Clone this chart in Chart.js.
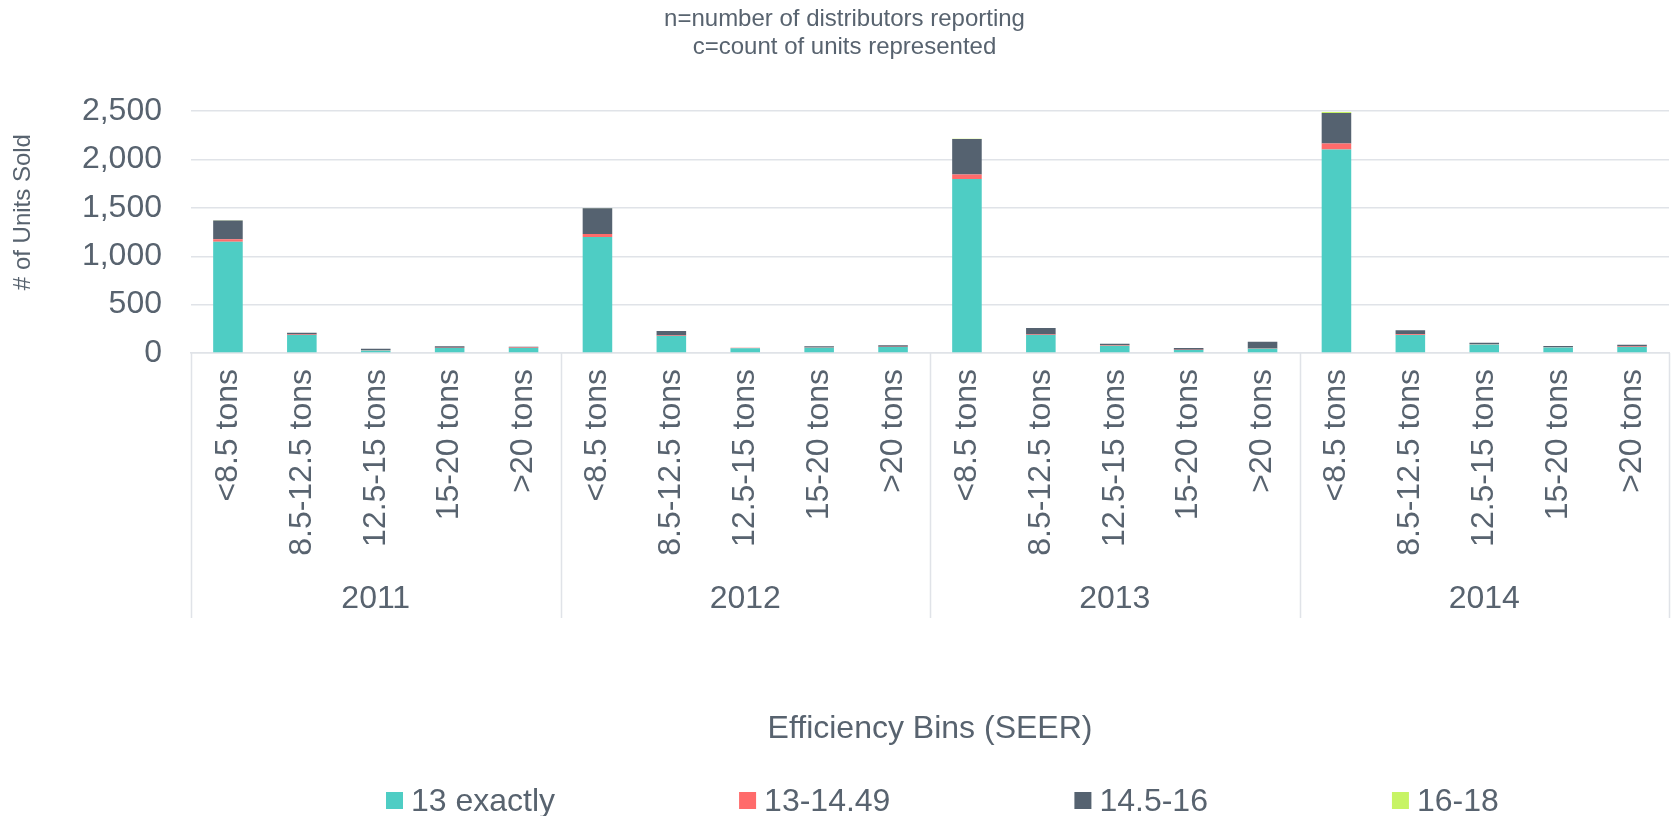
<!DOCTYPE html>
<html>
<head>
<meta charset="utf-8">
<script src="https://cdn.jsdelivr.net/npm/chart.js@4.4.1/dist/chart.umd.min.js"></script>
<style>
  html, body { margin: 0; padding: 0; background: #fff; }
  #wrap { width: 1671px; height: 816px; }
</style>
</head>
<body>
<div id="wrap"><canvas id="grafico"></canvas></div>
<script>
// === DADOS ===
const years = ['2011', '2012', '2013', '2014'];
const bins = ['<8.5 tons', '8.5-12.5 tons', '12.5-15 tons', '15-20 tons', '>20 tons'];
const seriesNames = ['13 exactly', '13-14.49', '14.5-16', '16-18'];

const exactly13 = [1150, 185, 27, 52, 52, 1200, 176, 48, 55, 62, 1800, 187, 76, 32, 45, 2105, 187, 89, 58, 62];
const s13to1449 = [25, 5, 3, 2, 5, 30, 4, 5, 2, 3, 45, 5, 8, 2, 2, 62, 8, 5, 2, 4];
const s145to16 = [195, 20, 15, 15, 8, 267, 48, 2, 12, 14, 368, 67, 12, 18, 70, 315, 40, 13, 12, 20];
const s16to18 = [2, 0, 0, 0, 0, 2, 0, 0, 0, 0, 3, 0, 0, 0, 0, 10, 0, 0, 0, 0];

const yTicks = [0, 500, 1000, 1500, 2000, 2500];

const cores = ['#4ECDC4', '#FF6B6B', '#556270', '#C7F464'];
const texto = '#58636f';
const linha = '#e0e3e8';
const fonte = '"Liberation Sans", Arial, sans-serif';

const labels = years.flatMap(() => bins);

// separadores entre os anos (abaixo do eixo)
const separadores = {
  id: 'separadores',
  afterDraw(chart) {
    const { ctx, chartArea } = chart;
    const ano = chart.scales.ano;
    const passo = (chartArea.right - chartArea.left) / labels.length;
    const fim = ano.top + 58;
    ctx.save();
    ctx.strokeStyle = linha;
    ctx.lineWidth = 1.5;
    for (let g = 0; g <= years.length; g++) {
      const x = Math.round(chartArea.left + g * bins.length * passo) + 0.5;
      ctx.beginPath();
      ctx.moveTo(x, chartArea.bottom);
      ctx.lineTo(x, fim);
      ctx.stroke();
    }
    ctx.restore();
  }
};

// legenda no estilo do Excel (espaçamento largo)
const legenda = {
  id: 'legenda',
  afterDraw(chart) {
    const { ctx } = chart;
    ctx.save();
    ctx.font = '32px ' + fonte;
    ctx.textBaseline = 'alphabetic';
    let x = 386;
    chart.data.datasets.forEach((ds) => {
      ctx.fillStyle = ds.backgroundColor;
      ctx.fillRect(x, 792, 17, 17);
      ctx.fillStyle = texto;
      ctx.fillText(ds.label, x + 25, 811);
      x += 25 + ctx.measureText(ds.label).width + 184;
    });
    ctx.restore();
  }
};

const ctx = document.getElementById('grafico');

const grafico = new Chart(ctx, {
  type: 'bar',
  data: {
    labels: labels,
    datasets: [
      { label: seriesNames[0], data: exactly13, backgroundColor: cores[0] },
      { label: seriesNames[1], data: s13to1449, backgroundColor: cores[1] },
      { label: seriesNames[2], data: s145to16, backgroundColor: cores[2] },
      { label: seriesNames[3], data: s16to18, backgroundColor: cores[3] }
    ]
  },
  options: {
    responsive: true,
    maintainAspectRatio: false,
    animation: false,
    datasets: {
      bar: { categoryPercentage: 1, barPercentage: 0.4, borderWidth: 0 }
    },
    layout: { padding: { left: 20, right: 2, top: 0, bottom: 60 } },
    plugins: {
      legend: { display: false },
      tooltip: { enabled: false },
      title: {
        display: true,
        text: ['n=number of distributors reporting', 'c=count of units represented'],
        color: texto,
        font: { family: fonte, size: 24, weight: 'normal', lineHeight: 1.15 },
        padding: { top: 6, bottom: 50 }
      }
    },
    scales: {
      x: {
        stacked: true,
        grid: { display: false, drawTicks: false },
        border: { display: true, color: linha, width: 1.5 },
        ticks: {
          color: texto,
          font: { family: fonte, size: 32 },
          minRotation: 90,
          maxRotation: 90,
          autoSkip: false,
          padding: 16
        },
        afterFit: (scale) => {
          scale.height = 207;
          scale.paddingLeft = 0;
          scale.paddingRight = 0;
        }
      },
      ano: {
        type: 'category',
        position: 'bottom',
        labels: years,
        offset: true,
        weight: 1,
        grid: { display: false, drawTicks: false },
        border: { display: false },
        ticks: {
          color: texto,
          font: { family: fonte, size: 32 },
          maxRotation: 0,
          autoSkip: false,
          padding: 20
        },
        title: {
          display: true,
          text: 'Efficiency Bins (SEER)',
          color: texto,
          font: { family: fonte, size: 32 },
          padding: { top: 40, bottom: 8 }
        },
        afterFit: (scale) => {
          scale.height = 196;
          scale.paddingLeft = 0;
          scale.paddingRight = 0;
        }
      },
      y: {
        stacked: true,
        min: 0,
        max: 2500,
        afterBuildTicks: (scale) => { scale.ticks = yTicks.map(v => ({ value: v })); },
        grid: { color: linha, lineWidth: 1.5, drawTicks: false },
        border: { display: false },
        ticks: {
          color: texto,
          font: { family: fonte, size: 32 },
          padding: 29,
          autoSkip: false,
          callback: (v) => Number(v).toLocaleString('en-US')
        },
        title: {
          display: true,
          // espaços à esquerda sobem o texto, como no original
          text: '      # of Units Sold',
          color: texto,
          font: { family: fonte, size: 24 },
          padding: { top: -11, bottom: 0 }
        },
        afterFit: (scale) => {
          scale.width = 171;
        }
      }
    }
  },
  plugins: [separadores, legenda]
});
</script>
</body>
</html>
